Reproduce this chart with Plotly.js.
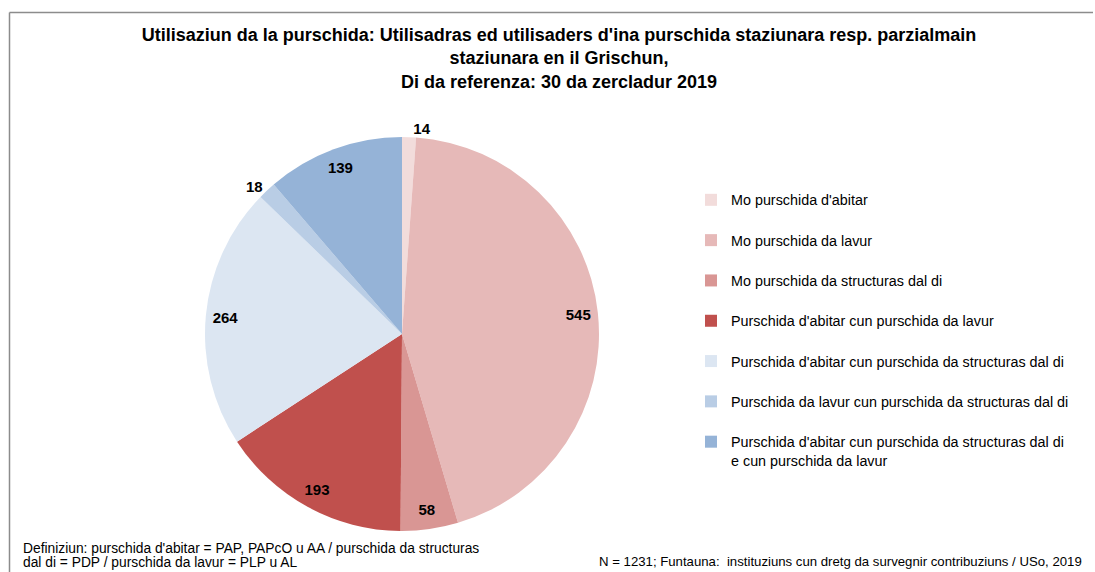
<!DOCTYPE html>
<html>
<head>
<meta charset="utf-8">
<script src="https://cdn.plot.ly/plotly-3.0.1.min.js"></script>
<style>html,body{margin:0;padding:0;background:#fff;}#chart{width:1095px;height:572px;}</style>
</head>
<body>
<div id="chart"></div>
<script>
// ---- data ----
const categories = [
  "Mo purschida d'abitar",
  "Mo purschida da lavur",
  "Mo purschida da structuras dal di",
  "Purschida d'abitar cun purschida da lavur",
  "Purschida d'abitar cun purschida da structuras dal di",
  "Purschida da lavur cun purschida da structuras dal di",
  "Purschida d'abitar cun purschida da structuras dal di<br>e cun purschida da lavur"
];
const values = [14, 545, 58, 193, 264, 18, 139];
const sliceColors = ["#F2DCDB", "#E6B9B8", "#D99694", "#C0504D", "#DCE6F2", "#B9CDE5", "#95B3D7"];
const labelPositions = ["outside", "inside", "inside", "inside", "inside", "outside", "inside"];

const titleText = "Utilisaziun da la purschida: Utilisadras ed utilisaders d'ina purschida staziunara resp. parzialmain<br>staziunara en il Grischun,<br>Di da referenza: 30 da zercladur 2019";
const noteLeftLines = [
  "Definiziun: purschida d'abitar = PAP, PAPcO u AA / purschida da structuras",
  "dal di = PDP / purschida da lavur = PLP u AL"
];
const noteRight = "N = 1231; Funtauna:  instituziuns cun dretg da survegnir contribuziuns / USo, 2019";

const W = 1095, H = 572;
const FONT = "Liberation Sans, Arial, sans-serif";

// legend labels padded to two lines so that every entry has the same height
const legendLabels = categories.map(c => c.indexOf("<br>") >= 0 ? c : c + "<br>&nbsp;");

// pie geometry (pixels -> paper)
const cx = 402, cy = 334, r = 197;
const domain = {
  x: [(cx - r) / W, (cx + r) / W],
  y: [1 - (cy + r) / H, 1 - (cy - r) / H]
};

const pie = {
  type: "pie",
  labels: legendLabels,
  values: values,
  sort: false,
  direction: "clockwise",
  rotation: 0,
  domain: domain,
  marker: { colors: sliceColors, line: { width: 0 } },
  textinfo: "none",
  hoverinfo: "skip",
  showlegend: true
};

// transparent ring used to place the value labels near the rim
const labelFont = { family: FONT, size: 15, color: "#000", weight: "bold" };
const labelRing = {
  type: "pie",
  labels: legendLabels,
  values: values,
  sort: false,
  direction: "clockwise",
  rotation: 0,
  hole: 0.8,
  domain: domain,
  marker: { colors: values.map(() => "rgba(0,0,0,0)"), line: { width: 0 } },
  texttemplate: "%{value}",
  textposition: labelPositions,
  insidetextorientation: "horizontal",
  textfont: labelFont,
  outsidetextfont: labelFont,
  insidetextfont: labelFont,
  hoverinfo: "skip",
  showlegend: false
};

const noteFont = { family: FONT, size: 13.8, color: "#000" };

const layout = {
  width: W, height: H,
  margin: { l: 0, r: 0, t: 0, b: 0 },
  paper_bgcolor: "#fff",
  plot_bgcolor: "#fff",
  font: { family: FONT, color: "#000" },
  title: {
    text: titleText,
    font: { family: FONT, size: 18, color: "#000", weight: "bold" },
    x: 559 / W, xanchor: "center",
    y: 1 - 41 / H, yanchor: "middle",
    yref: "container", xref: "container"
  },
  showlegend: true,
  legend: {
    x: 691 / W, xanchor: "left",
    y: 1 - 184 / H, yanchor: "top",
    font: { family: FONT, size: 14.35, color: "#000" },
    valign: "top",
    bgcolor: "rgba(0,0,0,0)",
    traceorder: "normal"
  },
  shapes: [
    { type: "line", xref: "paper", yref: "paper", x0: 9.5 / W, x1: 9.5 / W, y0: 1 - 12.5 / H, y1: -0.05, line: { color: "#8C8C8C", width: 1.5 } },
    { type: "line", xref: "paper", yref: "paper", x0: 9.5 / W, x1: 1093 / W, y0: 1 - 12.5 / H, y1: 1 - 12.5 / H, line: { color: "#8C8C8C", width: 1.5 } }
  ],
  annotations: [
    { text: noteLeftLines[0], xref: "paper", yref: "paper", x: 21 / W, y: 1 - 548 / H, xanchor: "left", yanchor: "middle", align: "left", showarrow: false, font: noteFont },
    { text: noteLeftLines[1], xref: "paper", yref: "paper", x: 21 / W, y: 1 - 562 / H, xanchor: "left", yanchor: "middle", align: "left", showarrow: false, font: noteFont },
    { text: noteRight, xref: "paper", yref: "paper", x: 597 / W, y: 1 - 561 / H, xanchor: "left", yanchor: "middle", align: "left", showarrow: false, font: { family: FONT, size: 13.2, color: "#000" } }
  ]
};

Plotly.newPlot("chart", [pie, labelRing], layout, { displayModeBar: false, staticPlot: true });
</script>
</body>
</html>
